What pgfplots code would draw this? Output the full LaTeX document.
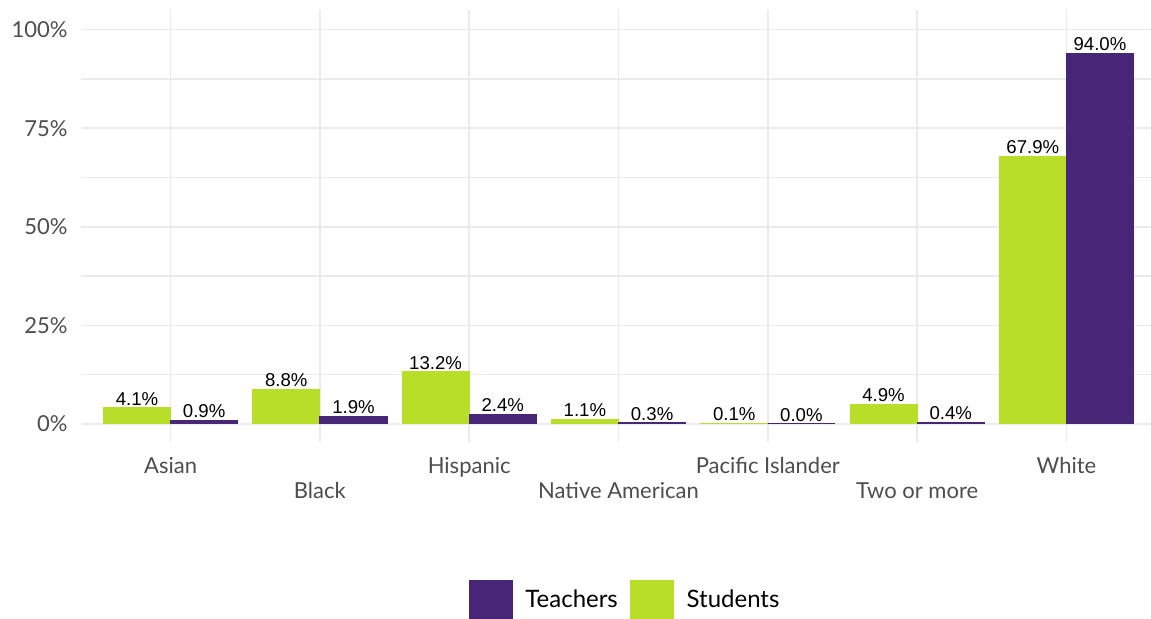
\documentclass[border=0pt]{standalone}
\usepackage{pgfplots}
\pgfplotsset{compat=1.18}
\usepackage{fontspec}
\setmainfont{Lato}
\newfontfamily\arialfont{Liberation Sans}
\definecolor{teach}{HTML}{482677}
\definecolor{stud}{HTML}{B8DE29}
\definecolor{gridc}{HTML}{EBEBEB}
\definecolor{tickc}{HTML}{4D4D4D}
\begin{document}
\begin{tikzpicture}
\useasboundingbox (0pt,0pt) rectangle (575.5pt,309.5pt);
\begin{axis}[
  at={(40.5pt,88.5pt)}, anchor=south west,
  scale only axis, width=537.5pt, height=216pt,
  xmin=0.4, xmax=7.6, ymin=-4.6, ymax=105,
  ybar=0pt, bar width=0.45,
  axis line style={draw=none}, tick style={draw=none},
  xtick={1,3,5,7}, xticklabels={Asian,Hispanic,Pacific Islander,White},
  extra x ticks={2,4,6}, extra x tick labels={Black,Native American,Two or more},
  extra x tick style={xticklabel style={yshift=-12.5pt}},
  xticklabel style={anchor=base, inner sep=0pt, yshift=-11.5pt, text=tickc, font=\fontsize{11}{13}\selectfont},
  ytick={0,25,50,75,100}, yticklabels={0\%,25\%,50\%,75\%,100\%},
  minor ytick={12.5,37.5,62.5,87.5},
  yticklabel style={anchor=east, inner sep=0pt, xshift=-6.5pt, text=tickc, font=\fontsize{11}{13}\selectfont},
  xmajorgrids, ymajorgrids, yminorgrids,
  major grid style={draw=gridc, line width=0.75pt},
  minor grid style={draw=gridc, line width=0.6pt},
  nodes near coords={\pgfmathprintnumber[fixed,fixed zerofill,precision=1,assume math mode=true]{\pgfplotspointmeta}\%},
  every node near coord/.append style={font=\arialfont\fontsize{9.3}{11}\selectfont, text=black, anchor=base, inner sep=0pt, yshift=1.3pt},
  legend style={at={(0.507,-0.366)}, anchor=center, draw=none, fill=none, legend columns=2,
    font=\fontsize{12}{14}\selectfont,
    /tikz/every odd column/.append style={column sep=4.5pt},
    /tikz/every even column/.append style={column sep=4pt}},
  legend cell align=left,
  reverse legend,
]
\addplot[fill=stud, draw=stud, line width=0.4pt, legend image code/.code={\fill[stud] (0pt,-9.75pt) rectangle (21.5pt,9.75pt);}]
  coordinates {(1,4.1) (2,8.8) (3,13.2) (4,1.1) (5,0.1) (6,4.9) (7,67.9)};
\addlegendentry{Students}
\addplot[fill=teach, draw=teach, line width=0.4pt, legend image code/.code={\fill[teach] (0pt,-9.75pt) rectangle (21.5pt,9.75pt);}]
  coordinates {(1,0.9) (2,1.9) (3,2.4) (4,0.3) (5,0.0) (6,0.4) (7,94.0)};
\addlegendentry{Teachers}
\end{axis}
\end{tikzpicture}
\end{document}
